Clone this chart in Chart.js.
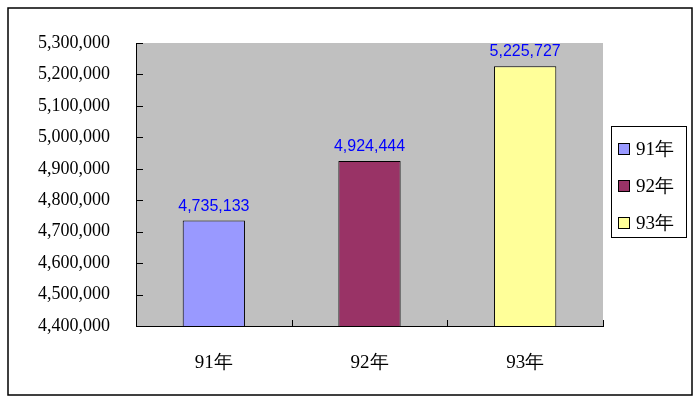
<!DOCTYPE html>
<html>
<head>
<meta charset="utf-8">
<style>
  html, body { margin: 0; padding: 0; background: #fff; }
  #wrap { width: 699px; height: 402px; }
</style>
<script src="https://cdn.jsdelivr.net/npm/chart.js@4.4.0/dist/chart.umd.min.js"></script>
</head>
<body>
<div id="wrap"><canvas id="myChart" width="699" height="402"></canvas></div>
<script>
	// data
	const categories = ['91年', '92年', '93年'];
	const values = [4735133, 4924444, 5225727];
	const barColors = ['#9999FF', '#993366', '#FFFF99'];
	const yMin = 4400000;
	const yMax = 5300000;
	const yStep = 100000;

	const serif = '"Liberation Serif", "Times New Roman", serif';

	function fmt(v) {
		return v.toLocaleString('en-US');
	}

	// frame, gray plot area, inner ticks, value labels, legend
	const decor = {
		id: 'decor',
		beforeDraw(chart) {
			const ctx = chart.ctx;
			const a = chart.chartArea;
			ctx.save();
			ctx.fillStyle = '#fff';
			ctx.fillRect(0, 0, chart.width, chart.height);
			ctx.strokeStyle = '#000';
			ctx.lineWidth = 1.5;
			ctx.strokeRect(8, 8, 684, 387);
			ctx.fillStyle = '#C0C0C0';
			ctx.fillRect(a.left, a.top, a.right - a.left, a.bottom - a.top);
			ctx.restore();
		},
		afterDatasetsDraw(chart) {
			const ctx = chart.ctx;
			const meta = chart.getDatasetMeta(0);
			ctx.save();
			ctx.fillStyle = '#0000FF';
			ctx.font = '16px "Liberation Sans", sans-serif';
			ctx.textAlign = 'center';
			ctx.textBaseline = 'alphabetic';
			meta.data.forEach(function (bar, i) {
				ctx.fillText(fmt(values[i]), bar.x, bar.y - 10);
			});
			ctx.restore();
		},
		afterDraw(chart) {
			const ctx = chart.ctx;
			const a = chart.chartArea;
			const x = chart.scales.x;
			const y = chart.scales.y;
			ctx.save();
			ctx.strokeStyle = '#000';
			ctx.lineWidth = 1;
			ctx.beginPath();
			y.ticks.forEach(function (t, i) {
				const py = Math.round(y.getPixelForTick(i)) + 0.5;
				ctx.moveTo(a.left, py);
				ctx.lineTo(a.left + 7, py);
			});
			for (let i = 0; i <= categories.length; i++) {
				const px = Math.round(x.getPixelForValue(i - 0.5)) + 0.5;
				ctx.moveTo(px, a.bottom);
				ctx.lineTo(px, a.bottom - 6);
			}
			ctx.stroke();

			// legend
			ctx.strokeRect(611.5, 126.5, 75, 111);
			ctx.font = '19px ' + serif;
			ctx.textAlign = 'left';
			ctx.textBaseline = 'middle';
			categories.forEach(function (c, i) {
				const cy = 149 + i * 37;
				ctx.fillStyle = barColors[i];
				ctx.fillRect(618, cy - 6, 11, 11);
				ctx.strokeRect(618.5, cy - 5.5, 11, 11);
				ctx.fillStyle = '#000';
				ctx.fillText(c, 636, cy + 1);
			});
			ctx.restore();
		}
	};

	const data = {
		labels: categories,
		datasets: [{
			data: values,
			backgroundColor: barColors,
			borderColor: '#000',
			borderWidth: 1,
			borderSkipped: 'bottom',
			barPercentage: 0.4,
			categoryPercentage: 1.0
		}]
	};

	const config = {
		type: 'bar',
		data: data,
		options: {
			responsive: false,
			animation: false,
			layout: {
				padding: { top: 43, right: 96, bottom: 0, left: 0 }
			},
			plugins: {
				legend: { display: false },
				tooltip: { enabled: false }
			},
			scales: {
				x: {
					offset: true,
					grid: { display: false, drawTicks: false },
					border: { display: true, color: '#000', width: 1 },
					ticks: {
						color: '#000',
						font: { family: serif, size: 19 },
						padding: 26
					},
					afterFit: function (s) { s.height = 76; }
				},
				y: {
					min: yMin,
					max: yMax,
					grid: { display: false, drawTicks: false },
					border: { display: true, color: '#000', width: 1 },
					ticks: {
						stepSize: yStep,
						color: '#000',
						font: { family: serif, size: 18 },
						padding: 26,
						callback: function (v) { return fmt(v); }
					},
					afterFit: function (s) { s.width = 136; }
				}
			}
		},
		plugins: [decor]
	};

	const myChart = new Chart(document.getElementById('myChart'), config);
</script>
</body>
</html>
